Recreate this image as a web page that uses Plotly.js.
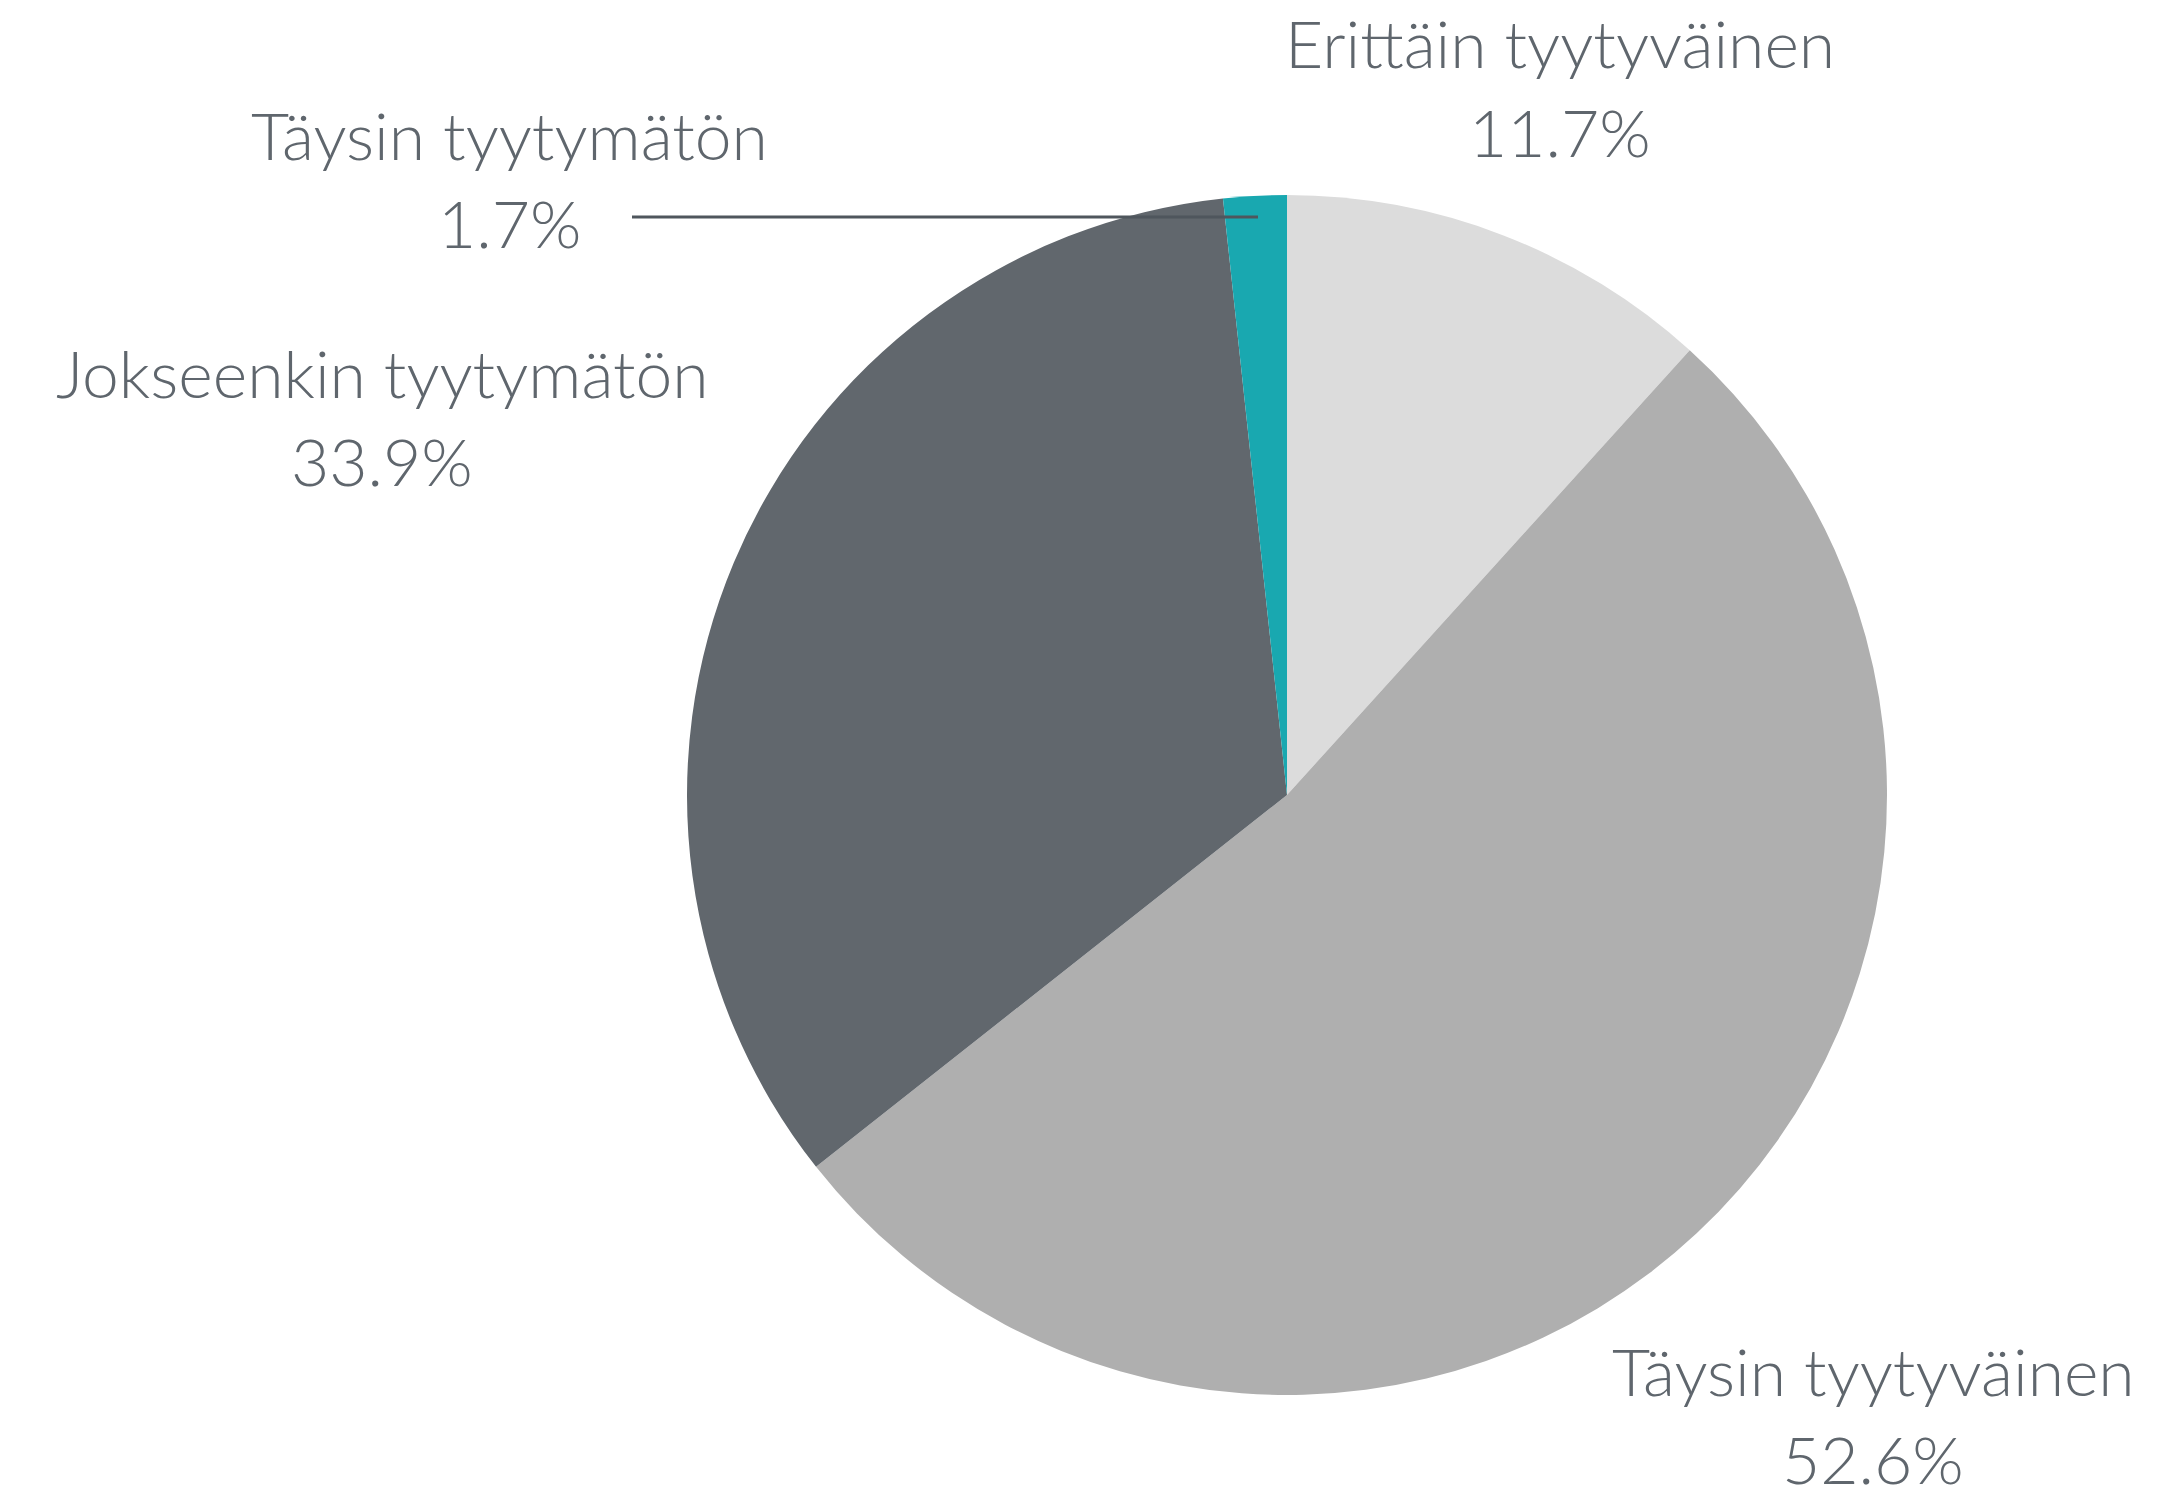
<!DOCTYPE html>
<html>
<head>
<meta charset="utf-8">
<script src="https://cdn.plot.ly/plotly-3.0.1.min.js"></script>
<style>
  html, body { margin: 0; padding: 0; background: #fff; }
  #chart { width: 2163px; height: 1497px; }
</style>
</head>
<body>
<div id="chart"></div>
<script>
"use strict"

const W = 2163, H = 1497;

// data
const labels = ['Erittäin tyytyväinen', 'Täysin tyytyväinen', 'Jokseenkin tyytymätön', 'Täysin tyytymätön'];
const values = [11.7, 52.6, 33.9, 1.7];
const colors = ['#dcdcdc', '#afafaf', '#61676d', '#19a8b0'];

// label placement in pixels (center x, y of name line)
const labelPosX = [1560, 1873, 382, 509];
const labelPosY = [43, 1370, 372, 135];

const textColor = '#5f666d';
const fontFamily = 'Lato, "Open Sans", sans-serif';

let px = x => x / W,
	py = y => 1 - y / H;

let annotations = [];
for(let i=0;i<labels.length;i++){
	annotations.push({
		xref: 'paper', yref: 'paper',
		x: px(labelPosX[i]), y: py(labelPosY[i]),
		xanchor: 'center', yanchor: 'middle',
		text: labels[i],
		showarrow: false,
		font: {family: fontFamily, size: 66, color: textColor, weight: 300}
	});
	annotations.push({
		xref: 'paper', yref: 'paper',
		x: px(labelPosX[i]), y: py(labelPosY[i] + 88),
		xanchor: 'center', yanchor: 'middle',
		text: values[i].toFixed(1) + '%',
		showarrow: false,
		font: {family: fontFamily, size: 66, color: textColor, weight: 300}
	});
}

let trace = {
	type: 'pie',
	labels: labels,
	values: values,
	sort: false,
	direction: 'clockwise',
	rotation: 0,
	marker: {colors: colors, line: {width: 0}},
	textinfo: 'none',
	hoverinfo: 'label+percent',
	showlegend: false,
	domain: {x: [px(687), px(1887)], y: [py(1395), py(195)]}
};

let layout = {
	width: W,
	height: H,
	margin: {l: 0, r: 0, t: 0, b: 0, pad: 0},
	paper_bgcolor: '#ffffff',
	showlegend: false,
	annotations: annotations,
	shapes: [{
		type: 'line',
		xref: 'paper', yref: 'paper',
		x0: px(632), x1: px(1258),
		y0: py(217), y1: py(217),
		line: {color: '#4f565d', width: 3}
	}]
};

Plotly.newPlot('chart', [trace], layout, {displayModeBar: false, staticPlot: true});
</script>
</body>
</html>
